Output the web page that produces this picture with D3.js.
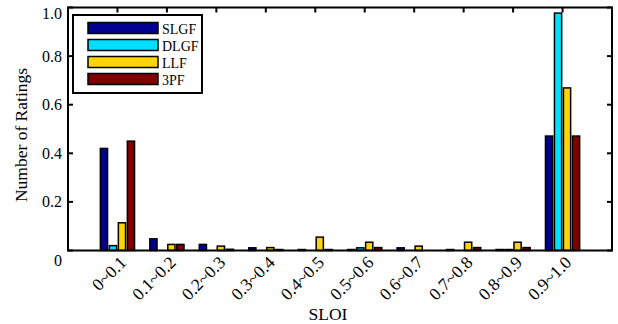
<!DOCTYPE html>
<html>
<head>
<meta charset="utf-8">
<script src="https://cdn.jsdelivr.net/npm/d3@7.9.0/dist/d3.min.js"></script>
<style>
  body { margin: 0; background: #fff; }
  svg { display: block; font-family: "Liberation Serif", "DejaVu Serif", serif; }
</style>
</head>
<body>
<svg id="chart" width="618" height="324"></svg>
<script>
// bins along SLOI
const categories = ["0~0.1", "0.1~0.2", "0.2~0.3", "0.3~0.4", "0.4~0.5",
                    "0.5~0.6", "0.6~0.7", "0.7~0.8", "0.8~0.9", "0.9~1.0"];
const seriesNames = ["SLGF", "DLGF", "LLF", "3PF"];
const slgf = [0.42, 0.048, 0.025, 0.011, 0.004, 0.004, 0.011, 0.004, 0.004, 0.471];
const dlgf = [0.02, 0, 0, 0, 0, 0.011, 0, 0, 0.004, 0.977];
const llf  = [0.114, 0.025, 0.018, 0.012, 0.055, 0.034, 0.018, 0.034, 0.034, 0.669];
const tpf  = [0.45, 0.025, 0.005, 0.004, 0.004, 0.012, 0, 0.012, 0.012, 0.471];
const yTicks = [0, 0.2, 0.4, 0.6, 0.8, 1.0];
const colors = ["#000090", "#00DFFF", "#FFD500", "#800000"];

const allSeries = [slgf, dlgf, llf, tpf];

const svg = d3.select("#chart");
const mLeft = 68, mRight = 612, mTop = 7.5, mBottom = 250.5;

// matlab-like numeric x axis, categories at 1..10
const x = d3.scaleLinear().domain([0, 11]).range([mLeft, mRight]);
const y = d3.scaleLinear().domain([0, 1]).range([mBottom, mTop]);

const nS = allSeries.length;
const groupW = Math.min(0.8, nS / (nS + 1.5));
const slot = groupW / nS;
const barW = slot * 0.8;

// bars
allSeries.forEach((vals, s) => {
    svg.append("g")
        .selectAll("rect")
        .data(vals)
        .join("rect")
        .attr("x", (d, i) => x(i + 1 - groupW / 2 + slot * s + (slot - barW) / 2))
        .attr("width", x(barW) - x(0))
        .attr("y", d => y(d))
        .attr("height", d => y(0) - y(d))
        .attr("fill", colors[s])
        .attr("stroke", "#000")
        .attr("stroke-width", 1.5);
});

// frame
const frame = svg.append("g").attr("stroke", "#000").attr("stroke-width", 2).attr("fill", "none");
frame.append("rect").attr("x", mLeft).attr("y", mTop).attr("width", mRight - mLeft).attr("height", mBottom - mTop);

const tickLen = 5;
// y ticks, inside on both sides
yTicks.forEach(t => {
    frame.append("line").attr("x1", mLeft).attr("x2", mLeft + tickLen).attr("y1", y(t)).attr("y2", y(t));
    frame.append("line").attr("x1", mRight).attr("x2", mRight - tickLen).attr("y1", y(t)).attr("y2", y(t));
});
// x ticks on top (bottom ones sit under the bars)
categories.forEach((c, i) => {
    frame.append("line").attr("x1", x(i + 1)).attr("x2", x(i + 1)).attr("y1", mTop).attr("y2", mTop + tickLen);
});

// y tick labels (end labels nudged down like the original)
svg.append("g").selectAll("text")
    .data(yTicks)
    .join("text")
    .attr("x", mLeft - 6)
    .attr("y", d => y(d) + 5.5 + (d === 0 ? 10 : d === 1 ? 6 : 0))
    .attr("text-anchor", "end")
    .attr("font-size", 16)
    .text(d => d === 0 ? "0" : d.toFixed(1));

// x tick labels, rotated
svg.append("g").selectAll("text")
    .data(categories)
    .join("text")
    .attr("transform", (d, i) => `translate(${x(i + 1) + 10},${mBottom + 13}) rotate(-45)`)
    .attr("text-anchor", "end")
    .attr("font-size", 17.5)
    .text(d => d);

// axis titles
svg.append("text")
    .attr("x", 328)
    .attr("y", 320)
    .attr("text-anchor", "middle")
    .attr("font-size", 17.5)
    .text("SLOI");

svg.append("text")
    .attr("transform", `translate(27,${(mTop + mBottom) / 2 + 6}) rotate(-90)`)
    .attr("text-anchor", "middle")
    .attr("font-size", 17.5)
    .text("Number of Ratings");

// legend
const legend = svg.append("g");
legend.append("rect")
    .attr("x", 73).attr("y", 15).attr("width", 129).attr("height", 78)
    .attr("fill", "#fff").attr("stroke", "#000").attr("stroke-width", 2);
seriesNames.forEach((name, i) => {
    const yy = 22.5 + i * 17;
    legend.append("rect")
        .attr("x", 88).attr("y", yy).attr("width", 70).attr("height", 11)
        .attr("fill", colors[i]).attr("stroke", "#000").attr("stroke-width", 1.5);
    legend.append("text")
        .attr("x", 162).attr("y", yy + 11)
        .attr("font-size", 14)
        .text(name);
});
</script>
</body>
</html>
